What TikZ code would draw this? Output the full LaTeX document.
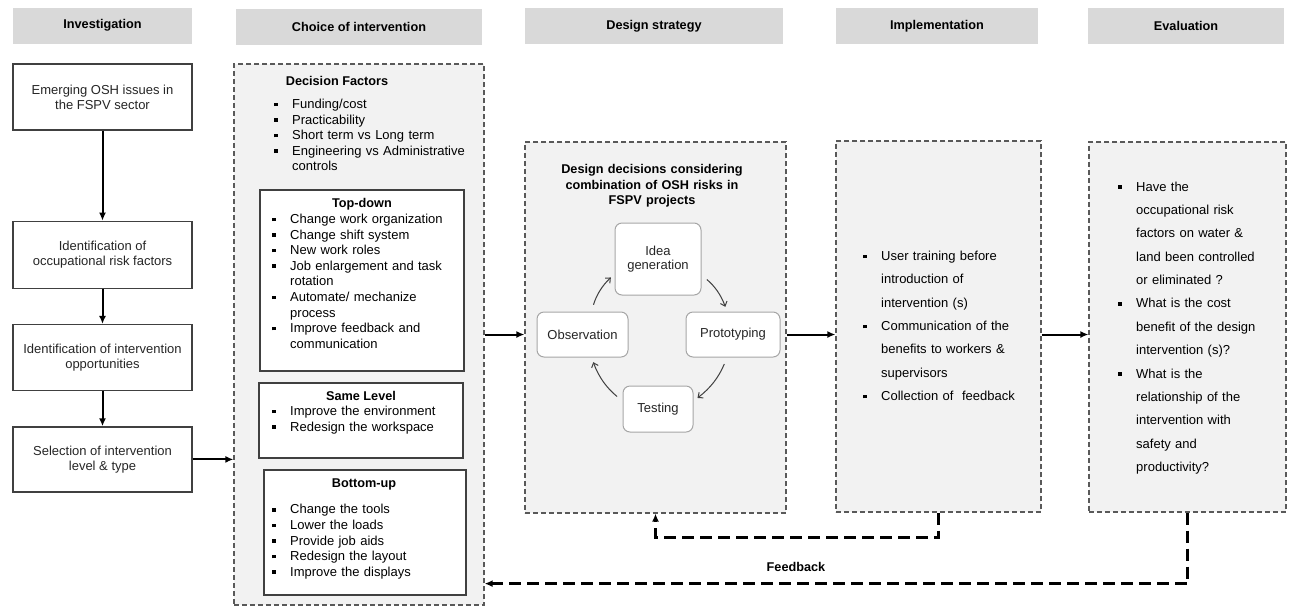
\documentclass[tikz,border=0pt]{standalone}
\usepackage{fontspec}
\setmainfont{Liberation Sans}
\usetikzlibrary{arrows.meta,positioning}
\pgfdeclarelayer{background}
\pgfsetlayers{background,main}
\definecolor{headgray}{RGB}{217,217,217}
\definecolor{panelgray}{RGB}{242,242,242}
\newcommand{\bitem}[1]{\noindent\hangindent=18pt\hangafter=1%
  \makebox[18pt][l]{\rule[2.3pt]{3.6pt}{3.6pt}}#1\par}

\begin{document}
\begin{tikzpicture}[x=1pt,y=-1pt,node distance=35pt,
heading/.style={
  font={\bfseries\fontsize{12.7pt}{15pt}\selectfont},
  fill=headgray,
  minimum height=36pt,
  inner sep=0pt},
stepbox/.style={
  draw=black!75,
  line width=1.3pt,
  fill=white,
  minimum width=179pt,
  minimum height=66pt,
  align=center,
  text=black!85,
  font={\fontsize{13pt}{15pt}\selectfont}},
panel/.style={
  draw=black!65,
  dash pattern=on 5pt off 3pt,
  line width=1.2pt,
  fill=panelgray,
  inner sep=0pt},
subbox/.style={
  draw=black!75,
  line width=1.3pt,
  fill=white,
  inner sep=0pt},
title/.style={
  font={\bfseries\fontsize{12.7pt}{15.5pt}\selectfont},
  align=center,
  inner sep=0pt,
  anchor=base},
bullets/.style={
  font={\fontsize{13pt}{15.6pt}\selectfont},
  text width=#1,
  align=left,
  inner sep=0pt,
  anchor=base west},
bullets/.default=190pt,
widebullets/.style={
  bullets=160pt,
  font={\fontsize{13pt}{23.35pt}\selectfont}},
stage/.style={
  draw=black!35,
  line width=1pt,
  rounded corners=7pt,
  fill=white,
  align=center,
  text=black!85,
  minimum height=45pt,
  font={\fontsize{13pt}{13.5pt}\selectfont}},
turn/.style={
  draw=black!75,
  line width=1pt,
  shorten <=7pt,
  shorten >=5pt,
  -{Straight Barb[length=4pt,width=7pt]}},
flow/.style={
  line width=2pt,
  -{Latex[length=8pt,width=7pt]}},
feedback/.style={
  line width=2.5pt,
  dash pattern=on 12pt off 6pt,
  -{Latex[length=8pt,width=7pt]}},
]
\useasboundingbox (0,0) rectangle (1289,606);

% stage headings
\node[heading, minimum width=179pt] (invH) at (102.5,25.5) {Investigation};
\node[heading, minimum width=246pt] (choiceH) at (359,27) {Choice of intervention};
\node[heading, minimum width=258pt] (designH) at (654,26) {Design strategy};
\node[heading, minimum width=202pt] (implH) at (937,26) {Implementation};
\node[heading, minimum width=196pt] (evalH) at (1186,26) {Evaluation};

% investigation
\node[stepbox] (emerg) at (102.5,97) {Emerging OSH issues in\\the FSPV sector};
\node[stepbox, below=90pt of emerg, minimum height=67pt] (riskid)
{Identification of\\occupational risk factors};
\node[stepbox, below=of riskid] (oppid)
{Identification of intervention\\opportunities};
\node[stepbox, below=of oppid, minimum height=65pt] (select)
{Selection of intervention\\level \& type};

\begin{pgfonlayer}{background}
\node[panel, minimum width=250pt, minimum height=541pt] (choiceP) at (359,334.5) {};
\node[panel, minimum width=261pt, minimum height=371pt] (designP) at (655.5,327.5) {};
\node[panel, minimum width=205pt, minimum height=371pt] (implP) at (938.5,326.5) {};
\node[panel, minimum width=197pt, minimum height=370pt] (evalP) at (1187.5,327) {};
\end{pgfonlayer}

% choice of intervention
\node[title] (dfT) at (337,85.5) {Decision Factors};
\node[bullets=200pt] (dfL) at (274,108.5) {%
\bitem{Funding/cost}
\bitem{Practicability}
\bitem{Short term vs Long term}
\bitem{Engineering vs Administrative\newline controls}};

\node[subbox, minimum width=204pt, minimum height=181pt] (topdown) at (362,280.5) {};
\node[title] (tdT) at (362,207.5) {Top-down};
\node[bullets] (tdL) at (272,223.5) {%
\bitem{Change work organization}
\bitem{Change shift system}
\bitem{New work roles}
\bitem{Job enlargement and task\newline rotation}
\bitem{Automate/ mechanize\newline process}
\bitem{Improve feedback and\newline communication}};

\node[subbox, minimum width=204pt, minimum height=75pt] (samelvl) at (361,420.5) {};
\node[title] (slT) at (361,400.5) {Same Level};
\node[bullets] (slL) at (272,415.5) {%
\bitem{Improve the environment}
\bitem{Redesign the workspace}};

\node[subbox, minimum width=202pt, minimum height=125pt] (bottomup) at (365,532.5) {};
\node[title] (buT) at (364,487.5) {Bottom-up};
\node[bullets] (buL) at (272,513.8) {%
\bitem{Change the tools}
\bitem{Lower the loads}
\bitem{Provide job aids}
\bitem{Redesign the layout}
\bitem{Improve the displays}};

% design strategy
\node[title, text width=230pt] (dsT) at (652,173.5)
{Design decisions considering\\combination of OSH risks in\\FSPV projects};
\node[stage, minimum width=86pt, minimum height=72pt] (idea) at (658,259) {Idea\\generation};
\node[stage, minimum width=91pt] (obs) at (582.5,334.5) {Observation};
\node[stage, minimum width=94pt] (proto) at (733,334.5) {Prototyping};
\node[stage, minimum width=70pt, minimum height=46pt] (test) at (658,409) {Testing};

\draw[turn] ([xshift=9pt]obs.north) to[bend left=15] ([yshift=-15pt]idea.west);
\draw[turn] ([yshift=-16pt]idea.east) to[bend left=15] ([xshift=-6pt]proto.north);
\draw[turn] ([xshift=-6pt]proto.south) to[bend left=15] ([yshift=8pt]test.east);
\draw[turn] ([yshift=8pt]test.west) to[bend left=15] ([xshift=9pt]obs.south);

% implementation
\node[widebullets] (implL) at (863,260.5) {%
\bitem{User training before\newline introduction of\newline intervention (s)}
\bitem{Communication of the\newline benefits to workers \&\newline supervisors}
\bitem{Collection of~ feedback}};

% evaluation
\node[widebullets] (evalL) at (1118,191.2) {%
\bitem{Have the\newline occupational risk\newline factors on water \&\newline land been controlled\newline or eliminated ?}
\bitem{What is the cost\newline benefit of the design\newline intervention (s)?}
\bitem{What is the\newline relationship of the\newline intervention with\newline safety and\newline productivity?}};

% connectors
\draw[flow] (emerg) -- (riskid);
\draw[flow] (riskid) -- (oppid);
\draw[flow] (oppid) -- (select);
\draw[flow] (select.east) -- (select.east -| choiceP.west);
\draw[flow] (choiceP.east) -- (choiceP.east -| designP.west);
\draw[flow] (designP.east |- choiceP.east) -- (choiceP.east -| implP.west);
\draw[flow] (implP.east |- choiceP.east) -- (choiceP.east -| evalP.west);

% feedback loops
\draw[feedback] (implP.south) -- ++(0,25) -| (designP.south);
\draw[feedback] (evalP.south) -- ++(0,71) coordinate (fbturn) -- (fbturn -| choiceP.east);
\node[title] (fbT) at (796,571.5) {Feedback};

\end{tikzpicture}
\end{document}
